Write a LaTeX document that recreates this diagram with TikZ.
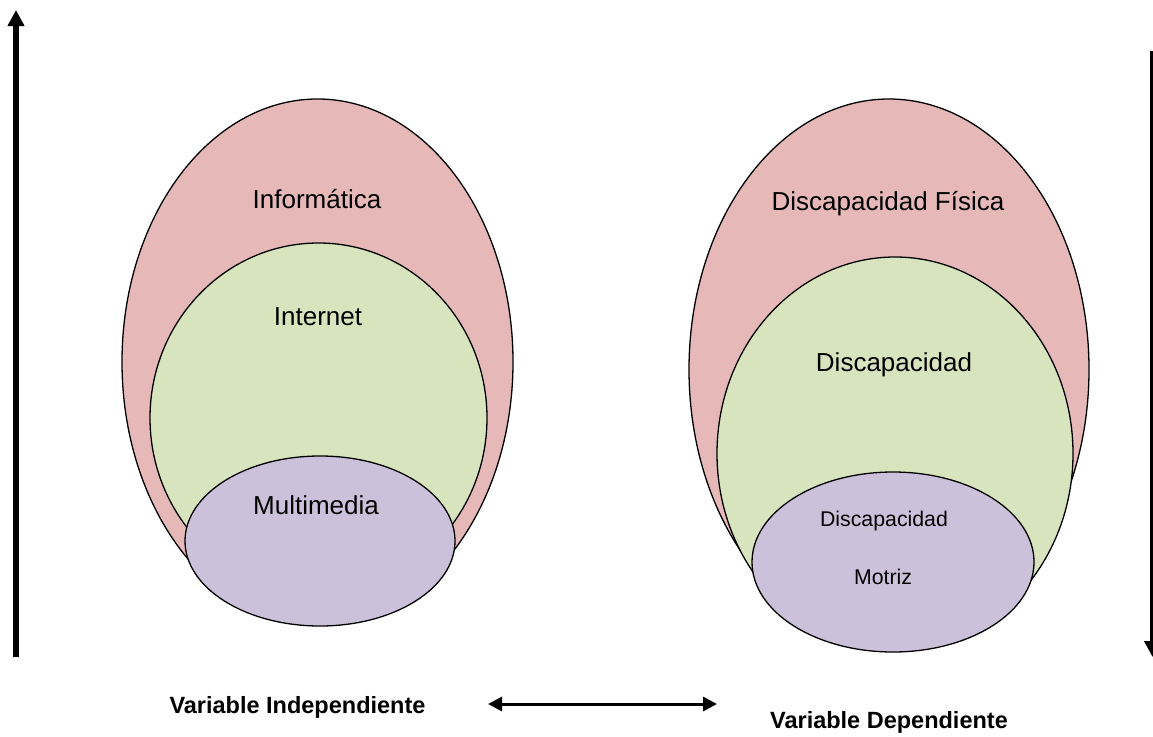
\documentclass[tikz,border=0pt]{standalone}
\usepackage{fontspec}
\setmainfont{Liberation Sans}
\usetikzlibrary{arrows.meta,shapes.geometric}
\definecolor{redfill}{HTML}{E6B9B8}
\definecolor{greenfill}{HTML}{D7E4BD}
\definecolor{purplefill}{HTML}{CCC1DA}
\begin{document}
\begin{tikzpicture}[x=1pt,y=-1pt,
  blob/.style={ellipse, draw=black, line width=1.3pt, inner sep=0pt, outer sep=0pt},
  lbl/.style={font=\fontsize{26}{30}\selectfont, inner sep=0pt},
  smalllbl/.style={font=\fontsize{21.3}{25}\selectfont, inner sep=0pt},
  varlbl/.style={font=\bfseries\fontsize{23.5}{27}\selectfont, inner sep=0pt},
  bigarrow/.style={line width=5.5pt, -{Triangle[width=16pt,length=16pt]}},
  duoarrow/.style={line width=3pt, {Triangle[width=14pt,length=14pt]}-{Triangle[width=14pt,length=14pt]}}]
\useasboundingbox (0,0) rectangle (1153,736);
\clip (0,0) rectangle (1153,736);
% left group
\node[blob, fill=redfill, minimum width=391pt, minimum height=526pt] (inf) at (317.5,362) {};
\node[blob, fill=greenfill, minimum width=337pt, minimum height=350pt] (inter) at (318.5,418) {};
\node[blob, fill=purplefill, minimum width=270pt, minimum height=170pt] (multi) at (320,541) {};
\node[lbl] (tinf) at (317,199) {Informática};
\node[lbl] (tinter) at (318,317) {Internet};
\node[lbl] (tmulti) at (316,505) {Multimedia};
% right group
\node[blob, fill=redfill, minimum width=400pt, minimum height=541pt] (fis) at (889,369.5) {};
\node[blob, fill=greenfill, minimum width=356pt, minimum height=393pt] (disc) at (895,453.5) {};
\node[blob, fill=purplefill, minimum width=282pt, minimum height=180pt] (mot) at (893,562) {};
\node[lbl] (tfis) at (888,204) {Discapacidad Física};
\node[lbl] (tdisc) at (894,365) {Discapacidad};
\node[smalllbl] (tmot1) at (884,521) {Discapacidad};
\node[smalllbl] (tmot2) at (883,577) {Motriz};
% arrows
\coordinate (lbot) at (16,657);
\coordinate (ltop) at (16,10);
\draw[bigarrow] (lbot) -- (ltop);
\coordinate (rtop) at (1152.5,51);
\coordinate (rbot) at (1152.5,657);
\draw[bigarrow] (rtop) -- (rbot);
\node[varlbl] (vind) at (297.5,707) {Variable Independiente};
\node[varlbl] (vdep) at (889,722) {Variable Dependiente};
\coordinate (hl) at (488,704);
\coordinate (hr) at (717,704);
\draw[duoarrow] (hl) -- (hr);
\end{tikzpicture}
\end{document}
